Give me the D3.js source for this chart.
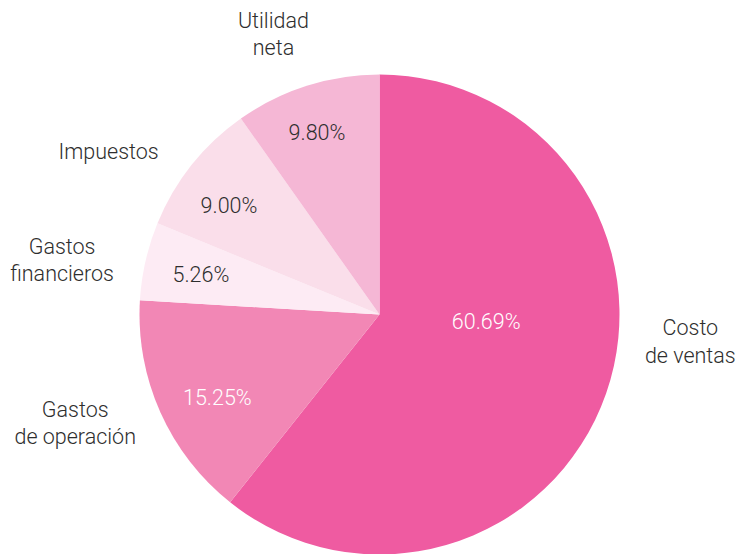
<!DOCTYPE html>
<html>
<head>
<meta charset="utf-8">
<script src="https://cdn.jsdelivr.net/npm/d3@7"></script>
<style>
  html, body { margin: 0; padding: 0; background: #fff; }
  svg { display: block; }
  text { font-family: Roboto, "Noto Sans", sans-serif; font-weight: 300; }
</style>
</head>
<body>
<svg id="chart" width="737" height="554"></svg>
<script>
// Distribución de ingresos (porcentaje)
const categories = ["Costo de ventas", "Gastos de operación", "Gastos financieros", "Impuestos", "Utilidad neta"];
const values = [60.69, 15.25, 5.26, 9.00, 9.80];
const valueLabels = ["60.69%", "15.25%", "5.26%", "9.00%", "9.80%"];
const nameLines = [["Costo", "de ventas"], ["Gastos", "de operación"], ["Gastos", "financieros"], ["Impuestos"], ["Utilidad", "neta"]];

// Presentation
const colors = ["#ef5ba1", "#f287b5", "#fdebf4", "#fadeea", "#f5b7d5"];
const valueTextColors = ["#ffffff", "#ffffff", "#2e2e2e", "#2e2e2e", "#2e2e2e"];
// Label placement around the pie: [angle in degrees clockwise from top, radius in px]
const valueLabelPolar = [[94, 107], [243, 182], [282.6, 183], [306, 186], [341, 192]];
const nameLabelPolar = [[95, 312], [250.4, 323], [279.7, 322], [301, 316], [339.3, 300]];
const fontSize = 21.5;

const cx = 379.5, cy = 314.5, R = 240;
const svg = d3.select("#chart");
const g = svg.append("g").attr("transform", `translate(${cx},${cy})`);

const pie = d3.pie().sort(null).value(d => d);
const arcs = pie(values);
const arc = d3.arc().innerRadius(0).outerRadius(R);

g.selectAll("path.slice")
  .data(arcs)
  .join("path")
  .attr("class", "slice")
  .attr("d", arc)
  .attr("fill", (d, i) => colors[i]);

const polar = (deg, r) => {
  const a = deg * Math.PI / 180;
  return [r * Math.sin(a), -r * Math.cos(a)];
};

// Percentages inside the slices
g.selectAll("text.value")
  .data(arcs)
  .join("text")
  .attr("class", "value")
  .attr("text-anchor", "middle")
  .attr("dominant-baseline", "central")
  .attr("font-size", fontSize)
  .attr("fill", (d, i) => valueTextColors[i])
  .attr("transform", (d, i) => {
    const p = polar(valueLabelPolar[i][0], valueLabelPolar[i][1]);
    return `translate(${p[0]},${p[1]})`;
  })
  .text((d, i) => valueLabels[i]);

// Category names outside the pie
const lineH = 27.5;
const names = g.selectAll("text.name")
  .data(arcs)
  .join("text")
  .attr("class", "name")
  .attr("text-anchor", "middle")
  .attr("font-size", fontSize)
  .attr("fill", "#2e2e2e")
  .attr("transform", (d, i) => {
    const p = polar(nameLabelPolar[i][0], nameLabelPolar[i][1]);
    return `translate(${p[0]},${p[1]})`;
  });

names.each(function (d, i) {
  const lines = nameLines[i];
  const t = d3.select(this);
  lines.forEach((ln, k) => {
    t.append("tspan")
      .attr("x", 0)
      .attr("y", (k - (lines.length - 1) / 2) * lineH)
      .attr("dominant-baseline", "central")
      .text(ln);
  });
});
</script>
</body>
</html>
